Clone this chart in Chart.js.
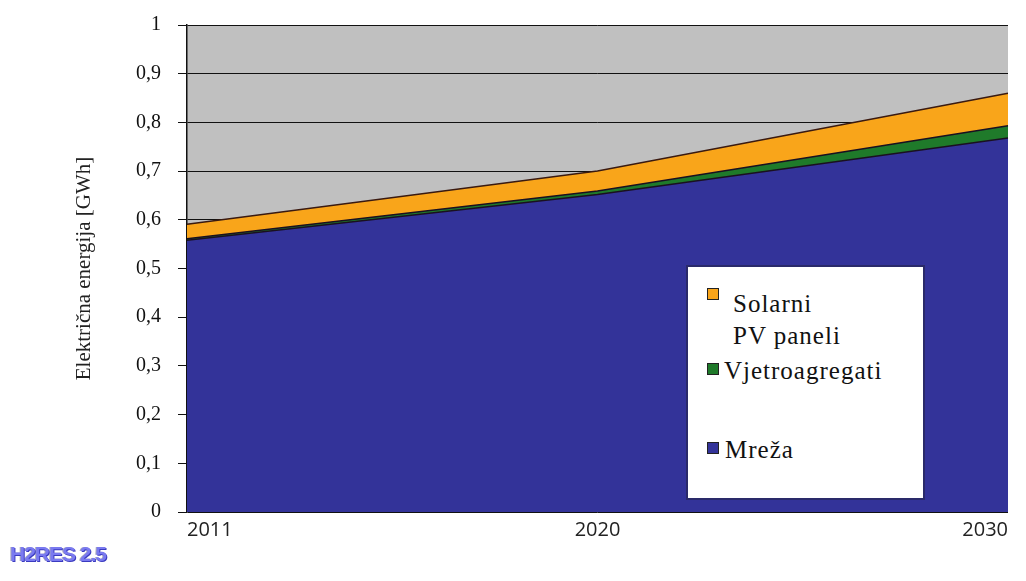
<!DOCTYPE html>
<html>
<head>
<meta charset="utf-8">
<script src="https://cdn.jsdelivr.net/npm/chart.js@4"></script>
<style>
  html, body { margin: 0; padding: 0; background: #fff; }
  #wrap { position: relative; width: 1026px; height: 581px; }
  #legend {
    position: absolute; left: 686px; top: 265px; width: 239px; height: 235px;
    background: #fff; border: 2px solid #2a2a6a; box-sizing: border-box;
    font-family: "Liberation Serif", "DejaVu Serif", serif; color: #111;
  }
  .item { position: absolute; font-size: 25px; line-height: 30px; letter-spacing: 1px; white-space: nowrap; }
  .sw { position: absolute; width: 10px; height: 10px; border: 1px solid #222; }
  #mark {
    position: absolute; left: 10px; top: 542px; font-family: "Liberation Sans", sans-serif;
    font-weight: bold; font-size: 21px; color: #7a7af0; letter-spacing: -1px;
    text-shadow: 1px 1px 0 #3b3bc0, -1px 0 0 #aab;
  }
</style>
</head>
<body>
<div id="wrap">
  <canvas id="chart" width="1026" height="581"></canvas>
  <div id="legend">
    <div class="sw" style="left:19px; top:21px; background:#f9a51a;"></div>
    <div class="item" style="left:45px; top:22px;">Solarni</div>
    <div class="item" style="left:45px; top:54px;">PV paneli</div>
    <div class="sw" style="left:19px; top:96px; background:#1f7a2a;"></div>
    <div class="item" style="left:36px; top:89px;">Vjetroagregati</div>
    <div class="sw" style="left:19px; top:175px; background:#333399;"></div>
    <div class="item" style="left:37px; top:168px;">Mreža</div>
  </div>
  <div id="mark">H2RES 2.5</div>
</div>
<script>
// years on the x axis
const years = ['2011', '2020', '2030'];
// electricity by source [GWh], stacked
const mreza = [0.558, 0.652, 0.768];
const vjetro = [0.003, 0.007, 0.025];
const solarni = [0.030, 0.041, 0.067];
// y axis ticks
const yMin = 0, yMax = 1, yStep = 0.1;

// grey plot background
const plotBg = {
  id: 'plotBg',
  beforeDraw(chart) {
    const { ctx, chartArea: a } = chart;
    ctx.save();
    ctx.fillStyle = '#c0c0c0';
    ctx.fillRect(a.left, a.top, a.right - a.left, a.bottom - a.top);
    ctx.restore();
  }
};

const ctx = document.getElementById('chart').getContext('2d');
new Chart(ctx, {
  type: 'line',
  data: {
    labels: years,
    datasets: [
      { label: 'Mreža', data: mreza, backgroundColor: '#333399', borderColor: '#1a1020', fill: 'origin' },
      { label: 'Vjetroagregati', data: vjetro, backgroundColor: '#1f7a2a', borderColor: '#1a1020', fill: '-1' },
      { label: 'Solarni PV paneli', data: solarni, backgroundColor: '#f9a51a', borderColor: '#3a1a10', fill: '-1' }
    ]
  },
  options: {
    responsive: false,
    animation: false,
    layout: { padding: { left: 0, right: 18, top: 25, bottom: 0 } },
    elements: {
      line: { borderWidth: 1.5, tension: 0 },
      point: { radius: 0 }
    },
    plugins: {
      legend: { display: false },
      tooltip: { enabled: false }
    },
    scales: {
      x: {
        offset: false,
        grid: { display: false, drawTicks: false },
        border: { display: false },
        ticks: {
          padding: 6,
          maxRotation: 0,
          align: 'inner',
          color: '#222',
          font: { family: '"Open Sans", "Liberation Sans", sans-serif', size: 20 }
        },
        afterFit(scale) {
          scale.height = 581 - 512;
          scale.paddingLeft = 0;
          scale.paddingRight = 0;
        }
      },
      y: {
        stacked: true,
        min: yMin,
        max: yMax,
        grid: { color: '#111', lineWidth: 1, tickLength: 9 },
        border: { display: true, color: '#111', width: 1.5 },
        ticks: {
          stepSize: yStep,
          padding: 17,
          color: '#111',
          font: { family: '"Liberation Serif", serif', size: 20 },
          callback: v => String(Math.round(v * 10) / 10).replace('.', ',')
        },
        title: {
          display: true,
          text: 'Električna energija [GWh]',
          color: '#222',
          padding: { top: 72, bottom: 0 },
          font: { family: '"Liberation Serif", serif', size: 21 }
        },
        afterFit(scale) {
          scale.width = 187;
          scale.paddingTop = 0;
          scale.paddingBottom = 0;
        }
      }
    }
  },
  plugins: [plotBg]
});
</script>
</body>
</html>
